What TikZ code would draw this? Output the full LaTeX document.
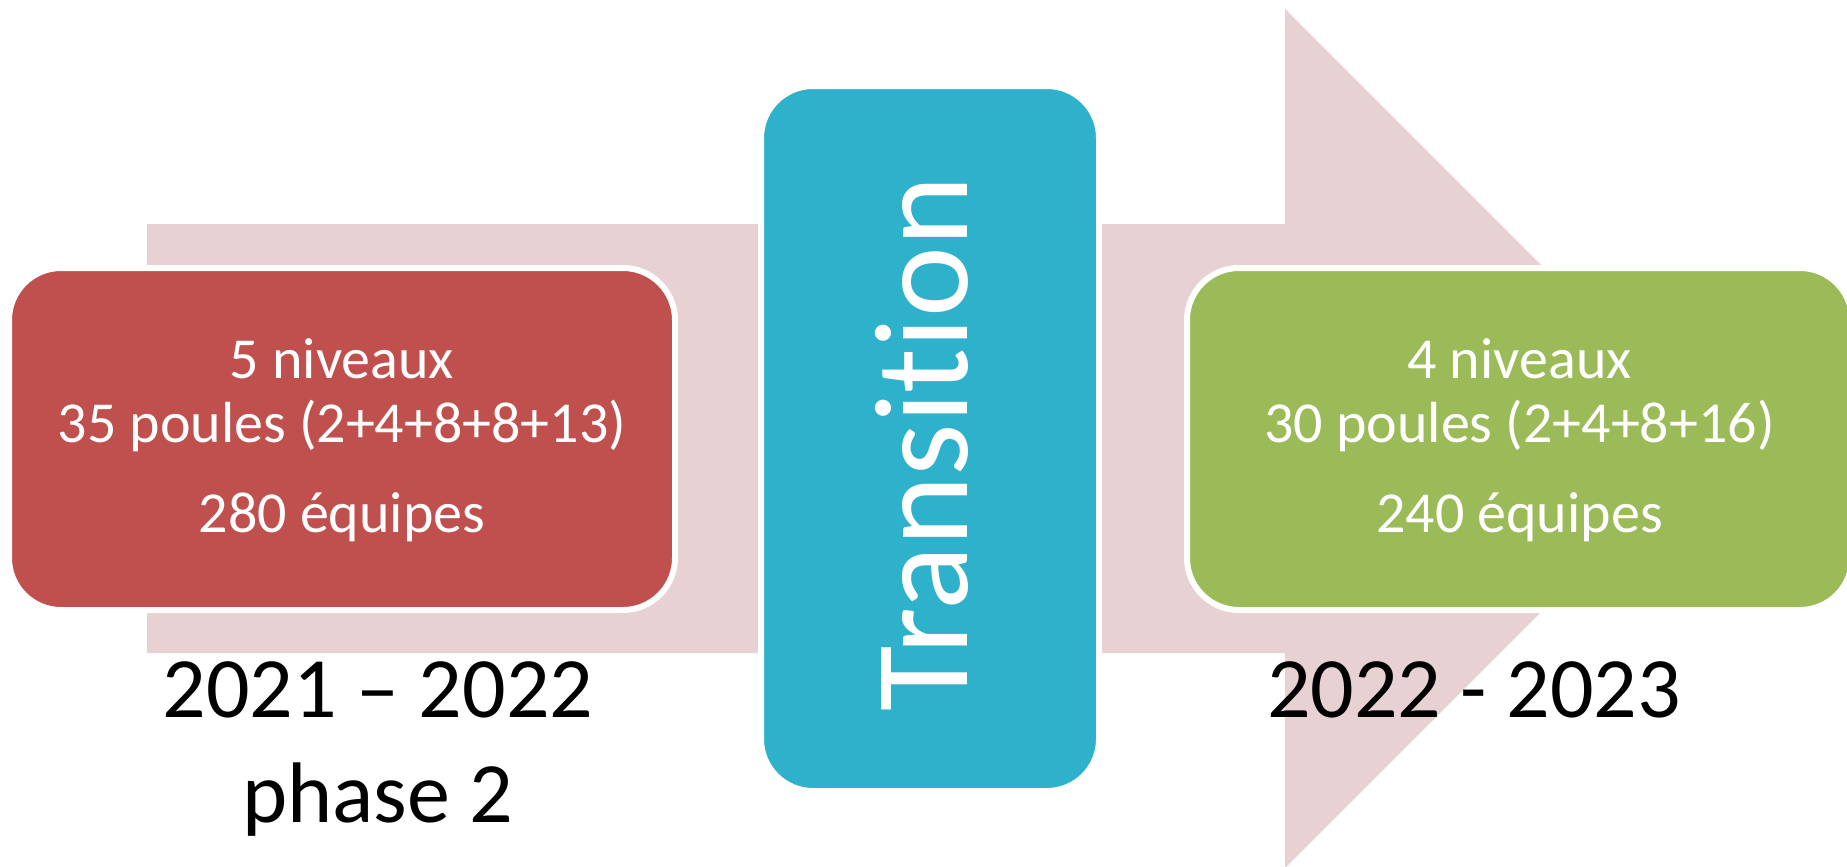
\documentclass[tikz,border=0pt]{standalone}
\usepackage{fontspec}
\setmainfont{Carlito}[Ligatures=NoCommon]
\definecolor{pinkarrow}{HTML}{E7D1D2}
\definecolor{boxred}{HTML}{C0504D}
\definecolor{boxgreen}{HTML}{9BBB59}
\definecolor{boxblue}{HTML}{2EB2CB}
\begin{document}
\begin{tikzpicture}[x=1pt,y=-1pt,
  roundbox/.style={rounded corners=52pt, draw=white, line width=6pt, inner sep=0pt, outer sep=0pt},
  boxtext/.style={text=white, font=\fontsize{58}{66}\selectfont, anchor=base, inner sep=0pt},
  yeartext/.style={text=black, font=\fontsize{86}{103}\selectfont, anchor=base, inner sep=0pt}]
\useasboundingbox (0,0) rectangle (1847,867);
\clip (0,0) rectangle (1847,867);
% big background arrow
\fill[pinkarrow] (147,224) -- (1285,224) -- (1285,9) -- (1714.5,438.5) -- (1285,868) -- (1285,653) -- (147,653) -- cycle;
% boxes
\node[roundbox, fill=boxred, minimum width=666pt, minimum height=342pt] (old) at (342,439) {};
\node[roundbox, fill=boxgreen, minimum width=665pt, minimum height=342pt] (new) at (1519.5,439) {};
\node[roundbox, fill=boxblue, minimum width=338pt, minimum height=705pt] (mid) at (930,438.5) {};
% texts in the boxes
\node[boxtext] (o1) at (342,378) {5 niveaux};
\node[boxtext] (o2) at (342,442) {35 poules (2+4+8+8+13)};
\node[boxtext] (o3) at (342,532) {280 équipes};
\node[boxtext] (n1) at (1519.5,378) {4 niveaux};
\node[boxtext] (n2) at (1519.5,442) {30 poules (2+4+8+16)};
\node[boxtext] (n3) at (1519.5,532) {240 équipes};
\node[rotate=90, anchor=base, text=white, font=\fontsize{134}{140}\selectfont, inner sep=0pt] (trans) at (967,444) {Transition};
% season labels
\node[yeartext] (y1a) at (378,717) {2021 – 2022};
\node[yeartext] (y1b) at (378,822) {phase 2};
\node[yeartext] (y2) at (1474,717) {2022 - 2023};
\end{tikzpicture}
\end{document}
